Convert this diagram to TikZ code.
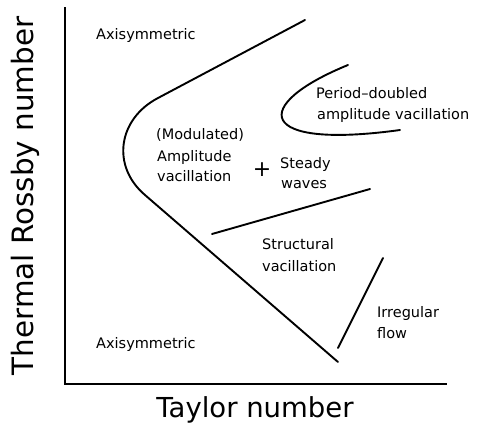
\documentclass[tikz,border=0pt]{standalone}
\usepackage{fontspec}
\setmainfont{DejaVu Sans}
\begin{document}
\begin{tikzpicture}[x=1pt,y=-1pt,
  lab/.style={anchor=base west,inner sep=0pt,font=\fontsize{14.5}{17}\selectfont},
  big/.style={inner sep=0pt,font=\fontsize{27.5}{30}\selectfont},
  curve/.style={line width=1.9pt,line cap=round},
  axis/.style={line width=2.4pt}]
\useasboundingbox (0,0) rectangle (481,437);
% axes
\coordinate (ytop) at (65,7);
\coordinate (orig) at (65,384);
\coordinate (xend) at (447,384);
\draw[axis] (ytop) -- (orig) -- (xend);
% main boundary curve
\coordinate (m1) at (305,20);
\coordinate (m2) at (158,98);
\coordinate (m3) at (145,195);
\coordinate (m4) at (338,362);
\draw[curve] (m1) -- (m2) .. controls (118,119) and (111,166) .. (m3) -- (m4);
% period-doubled curve
\coordinate (p1) at (348,65);
\coordinate (p2) at (400,130);
\draw[curve] (p1) .. controls (250,105) and (255,150) .. (p2);
% steady waves boundary
\coordinate (s1) at (212,234);
\coordinate (s2) at (370,189);
\draw[curve] (s1) -- (s2);
% irregular flow boundary
\coordinate (i1) at (383,258);
\coordinate (i2) at (338,348);
\draw[curve] (i1) -- (i2);
% labels
\node[lab] (ax1) at (96,39) {Axisymmetric};
\node[lab] (ax2) at (96,348) {Axisymmetric};
\node[lab] (pd1) at (316,98) {Period–doubled};
\node[lab] (pd2) at (317,119) {amplitude vacillation};
\node[lab] (mo1) at (156,139) {(Modulated)};
\node[lab] (mo2) at (157,161) {Amplitude};
\node[lab] (mo3) at (157,181) {vacillation};
\node[inner sep=0pt,font=\fontsize{22}{24}\selectfont] (plus) at (262,170) {+};
\node[lab] (st1) at (280,168) {Steady};
\node[lab] (st2) at (281,188) {waves};
\node[lab] (sv1) at (262,249) {Structural};
\node[lab] (sv2) at (262,271) {vacillation};
\node[lab] (ir1) at (377,317) {Irregular};
\node[lab] (ir2) at (377,338) {flow};
\node[big,anchor=base] (xl) at (255,417) {Taylor number};
\node[big,anchor=base,rotate=90,font=\fontsize{29.4}{32}\selectfont] (yl) at (33,196) {Thermal Rossby number};
\end{tikzpicture}
\end{document}
